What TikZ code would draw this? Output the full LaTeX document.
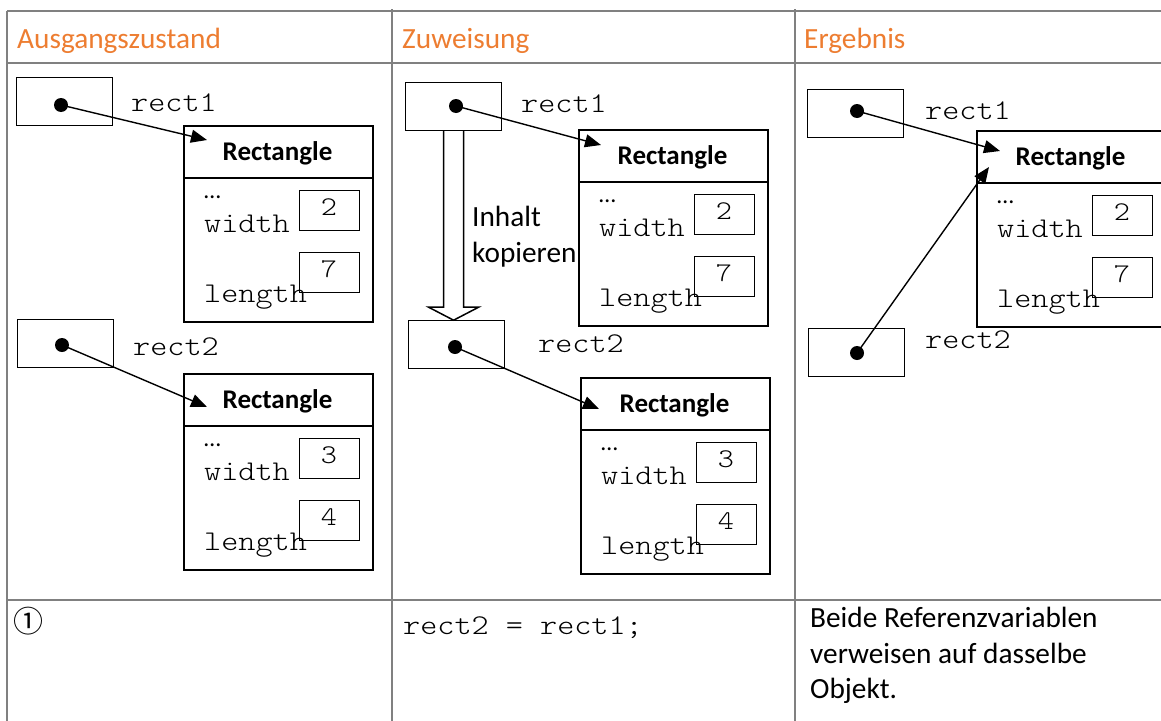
\documentclass[tikz,border=0pt]{standalone}
\usepackage{fontspec}
\setmainfont{Carlito}
\newfontfamily\courfont[FakeStretch=1.14]{lmmonolt10-regular.otf}
\newfontfamily\symfont{Noto Sans CJK JP}
\usetikzlibrary{arrows.meta}
\definecolor{gridgray}{RGB}{128,128,128}
\definecolor{hdrorange}{RGB}{237,125,49}
\newcommand{\robject}[5]{%
  \node[objbox] (#1) at (#2,#3) {};
  \draw[line width=1.5pt] ([yshift=-53pt]#1.north west) -- ([yshift=-53pt]#1.north east);
  \node[clsname] (#1c) at ([shift={(94.5pt,-35pt)}]#1.north west) {Rectangle};
  \node[ell] (#1e) at ([shift={(21pt,-73pt)}]#1.north west) {…};
  \node[mono] (#1w) at ([shift={(21pt,-107pt)}]#1.north west) {width};
  \node[mono] (#1l) at ([shift={(21pt,-177pt)}]#1.north west) {length};
  \node[valbox] (#1a) at ([shift={(116pt,-65pt)}]#1.north west) {};
  \node[digit] (#1ad) at ([shift={(146pt,-90pt)}]#1.north west) {#4};
  \node[valbox] (#1b) at ([shift={(116pt,-127pt)}]#1.north west) {};
  \node[digit] (#1bd) at ([shift={(146pt,-152pt)}]#1.north west) {#5};
}
\begin{document}
\begin{tikzpicture}[x=1pt,y=-1pt,
  txt/.style={anchor=base west, inner sep=0pt, font=\fontsize{29.3}{35}\selectfont},
  hdr/.style={txt, text=hdrorange},
  mono/.style={anchor=base west, inner sep=0pt, font=\courfont\fontsize{28.6}{34}\selectfont},
  digit/.style={anchor=base, inner sep=0pt, font=\courfont\fontsize{27}{32}\selectfont},
  clsname/.style={anchor=base, inner sep=0pt, font=\bfseries\fontsize{27}{32}\selectfont},
  ell/.style={anchor=base west, inner sep=0pt, font=\fontsize{24}{28}\selectfont},
  objbox/.style={draw, line width=1.5pt, anchor=north west, minimum width=189pt, minimum height=196pt, inner sep=0pt},
  valbox/.style={draw, line width=1.1pt, anchor=north west, minimum width=60pt, minimum height=40pt, inner sep=0pt},
  refbox/.style={draw, line width=1.2pt, anchor=north west, minimum width=96pt, minimum height=48pt, inner sep=0pt},
  refdot/.style={circle, fill, minimum size=14pt, inner sep=0pt},
  refarrow/.style={line width=1.4pt, -{Triangle[length=16pt,width=13pt]}},
  gridline/.style={draw=gridgray, line width=1.5pt},
]
\useasboundingbox (0,0) rectangle (1161,720);
% table grid
\draw[gridline] (7,11) -- (1175,11);
\draw[gridline] (7,63) -- (1175,63);
\draw[gridline] (7,600) -- (1175,600);
\draw[gridline] (7,11) -- (7,730);
\draw[gridline] (392,9) -- (392,730);
\draw[gridline] (795,9) -- (795,730);
% headers
\node[hdr] (h1) at (17,48) {Ausgangszustand};
\node[hdr] (h2) at (402,48) {Zuweisung};
\node[hdr] (h3) at (804,48) {Ergebnis};

% ---------- column 1
\node[refbox] (r11) at (16,77) {};
\node[refdot] (d11) at (61,105) {};
\node[mono] (l11) at (131,111) {rect1};
\robject{o11}{183}{125}{2}{7}
\coordinate (t11) at (207,140);
\draw[refarrow] (d11.center) -- (t11);

\node[refbox] (r12) at (17,319) {};
\node[refdot] (d12) at (62,345) {};
\node[mono] (l12) at (133,355) {rect2};
\robject{o12}{183}{373}{3}{4}
\coordinate (t12) at (207,407);
\draw[refarrow] (d12.center) -- (t12);

% ---------- column 2
\node[refbox] (r21) at (405,82) {};
\node[refdot] (d21) at (456,106) {};
\node[mono] (l21) at (521,112) {rect1};
\robject{o21}{578}{129}{2}{7}
\coordinate (t21) at (601,145);
\draw[refarrow] (d21.center) -- (t21);

\node[refbox] (r22) at (408,320) {};
\node[refdot] (d22) at (455,347) {};
\node[mono] (l22) at (538,352) {rect2};
\robject{o22}{580}{377}{3}{4}
\coordinate (t22) at (599,409);
\draw[refarrow] (d22.center) -- (t22);

% hollow copy arrow
\draw[line width=1.5pt, line join=miter] ([xshift=-10pt]r21.south) -- ++(0pt,-176pt) -- ++(-15pt,0pt)
  -- ++(25pt,-13pt) -- ++(25pt,13pt) -- ++(-15pt,0pt) -- ([xshift=10pt]r21.south);
\node[txt] (cp1) at (472,226) {Inhalt};
\node[txt] (cp2) at (472,262) {kopieren};

% ---------- column 3
\node[refbox] (r31) at (807,89) {};
\node[refdot] (d31) at (857,111) {};
\node[mono] (l31) at (925,119) {rect1};
\robject{o31}{976}{130}{2}{7}
\coordinate (t31) at (1000,151);
\draw[refarrow] (d31.center) -- (t31);

\node[refbox] (r32) at (808,328) {};
\node[refdot] (d32) at (857,353) {};
\node[mono] (l32) at (925,348) {rect2};
\coordinate (t32) at (989,167);
\draw[refarrow] (d32.center) -- (t32);

% ---------- bottom row
\node[inner sep=0pt, font=\symfont\fontsize{30}{34}\selectfont] (n1) at (28,621) {①};
\node[mono] (code) at (403,634) {rect2 = rect1;};
\node[txt] (b1) at (810,627) {Beide Referenzvariablen};
\node[txt] (b2) at (810,663) {verweisen auf dasselbe};
\node[txt] (b3) at (810,698) {Objekt.};
\end{tikzpicture}
\end{document}
